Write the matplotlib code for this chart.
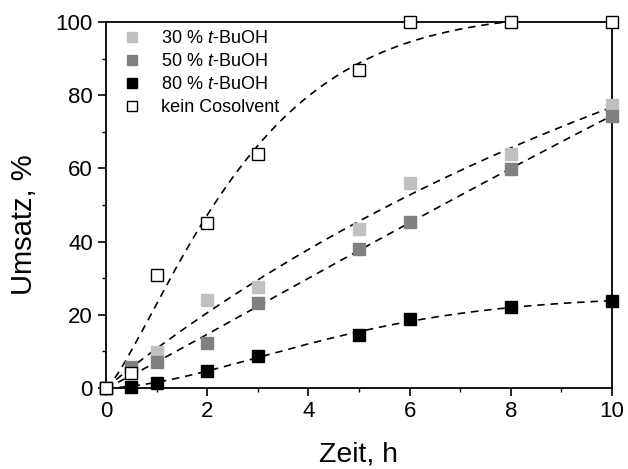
import numpy as np
import matplotlib
matplotlib.use("Agg")
import matplotlib.pyplot as plt

plt.rcParams['font.family'] = ['Liberation Sans', 'DejaVu Sans']
plt.rcParams['mathtext.fontset'] = 'custom'
plt.rcParams['mathtext.rm'] = 'Liberation Sans'
plt.rcParams['mathtext.it'] = 'Liberation Sans:italic'

# Reaction time (h) and conversion (%) for each solvent mixture
zeit = [0, 0.5, 1, 2, 3, 5, 6, 8, 10]
umsatz_30 = [0, 4.5, 9.8, 24.0, 27.6, 43.5, 56.0, 63.8, 77.3]
umsatz_50 = [0, 5.7, 7.1, 12.2, 23.3, 38.0, 45.4, 59.8, 74.3]
umsatz_80 = [0, 0.3, 1.4, 4.6, 8.7, 14.6, 18.8, 22.0, 23.8]
umsatz_kein = [0, 4.1, 30.9, 45.0, 64.0, 87.0, 100, 100, 100]

labels = ['30 % $\\it{t}$-BuOH', '50 % $\\it{t}$-BuOH', '80 % $\\it{t}$-BuOH', 'kein Cosolvent']
colors = ['#c0c0c0', '#808080', '#000000', 'white']


def weibull_fit(t, y):
    """Least-squares fit of y = A * (1 - exp(-(k t)^n))."""
    t = np.asarray(t, float)
    y = np.asarray(y, float)
    best = None
    for k in np.linspace(0.005, 1.0, 400):
        for n in np.linspace(0.7, 3.0, 116):
            f = 1 - np.exp(-(k * t) ** n)
            A = f @ y / (f @ f)
            r = np.sum((A * f - y) ** 2)
            if best is None or r < best[0]:
                best = (r, A, k, n)
    _, A, k, n = best
    return lambda x: A * (1 - np.exp(-(k * x) ** n))


fig = plt.figure(figsize=(6.28, 4.69), dpi=100)
ax = fig.add_axes([0.1688, 0.1727, 0.8057, 0.7804])

tt = np.linspace(0, 10, 300)
series = [umsatz_30, umsatz_50, umsatz_80, umsatz_kein]
for y in series:
    model = weibull_fit(zeit, y)
    ax.plot(tt, model(tt), color='black', lw=1.2, ls=(0, (4.5, 3.5)), zorder=2)

for y, c, lab in zip(series, colors, labels):
    ax.plot(zeit, y, ls='none', marker='s', markersize=8.5,
            markerfacecolor=c, markeredgecolor='black' if c == 'white' else c,
            markeredgewidth=1.0, label=lab, clip_on=False, zorder=3)

ax.set_xlim(0, 10)
ax.set_ylim(0, 100)
ax.set_xticks(range(0, 11, 2))
ax.set_xticks(range(1, 10, 2), minor=True)
ax.set_yticks(range(0, 101, 20))
ax.set_yticks(range(10, 100, 20), minor=True)
ax.tick_params(axis='both', which='major', direction='out', length=5.5, width=1.2,
               labelsize=16, pad=4)
ax.tick_params(axis='both', which='minor', direction='out', length=3, width=1.0)
for s in ax.spines.values():
    s.set_linewidth(1.3)

ax.set_xlabel('Zeit, h', fontsize=20.5, labelpad=14)
ax.set_ylabel('Umsatz, %', fontsize=21)
ax.yaxis.set_label_coords(-0.134, 0.445)

leg = ax.legend(loc='upper left', frameon=False, fontsize=13, handletextpad=0.85,
                borderaxespad=0.3, labelspacing=0.33, handlelength=1.5,
                markerscale=0.85, bbox_to_anchor=(0.0, 1.012))

fig.savefig('out.png', dpi=100)
